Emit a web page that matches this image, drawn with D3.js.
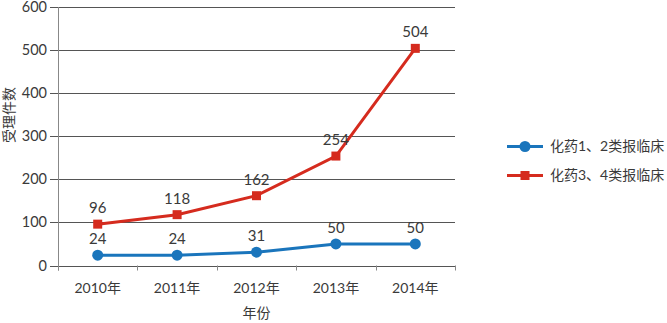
<!DOCTYPE html>
<html>
<head>
<meta charset="utf-8">
<script src="https://cdn.jsdelivr.net/npm/d3@7"></script>
<style>
  body { margin: 0; background: #fff; }
  text { font-family: "Lato", "Noto Sans CJK SC", sans-serif; fill: #3a3a3a; }
</style>
</head>
<body>
<svg id="chart" width="667" height="323"></svg>
<script>
// data
const years = ["2010年", "2011年", "2012年", "2013年", "2014年"]
const seriesNames = ["化药1、2类报临床", "化药3、4类报临床"]
const blueVals = [24, 24, 31, 50, 50]
const redVals = [96, 118, 162, 254, 504]
const yTicks = [0, 100, 200, 300, 400, 500, 600]

const colors = ["#1a75bc", "#d52b1e"]

const svg = d3.select('#chart')
const plotL = 58, plotR = 455, plotT = 7, plotB = 265.5

const x = d3.scaleBand().domain(years).range([plotL, plotR])
const y = d3.scaleLinear().domain([0, 600]).range([plotB, plotT])

// grid lines
svg.append("g")
  .selectAll("line")
  .data(yTicks)
  .join("line")
  .attr("x1", plotL - 8)
  .attr("x2", plotR)
  .attr("y1", d => Math.round(y(d)) + 0.5)
  .attr("y2", d => Math.round(y(d)) + 0.5)
  .attr("stroke", "#555")
  .attr("stroke-width", 1)

// y tick labels
svg.append("g")
  .selectAll("text")
  .data(yTicks)
  .join("text")
  .attr("x", plotL - 11)
  .attr("y", d => y(d))
  .attr("dy", "0.35em")
  .attr("text-anchor", "end")
  .style("font-size", "14.5px")
  .text(d => d)

// y axis line
svg.append("line")
  .attr("x1", plotL + 0.5).attr("x2", plotL + 0.5)
  .attr("y1", plotT).attr("y2", plotB + 5)
  .attr("stroke", "#888")

// x ticks (band edges)
const edges = years.map(d => x(d)).concat([plotR])
svg.append("g")
  .selectAll("line")
  .data(edges)
  .join("line")
  .attr("x1", d => Math.round(d) + 0.5)
  .attr("x2", d => Math.round(d) + 0.5)
  .attr("y1", plotB)
  .attr("y2", plotB + 5)
  .attr("stroke", "#888")

// x labels
svg.append("g")
  .selectAll("text")
  .data(years)
  .join("text")
  .attr("x", d => x(d) + x.bandwidth() / 2)
  .attr("y", 293)
  .attr("text-anchor", "middle")
  .style("font-size", "14px")
  .text(d => d)

// axis titles
svg.append("text")
  .attr("x", (plotL + plotR) / 2)
  .attr("y", 318)
  .attr("text-anchor", "middle")
  .style("font-size", "14px")
  .text("年份")

svg.append("text")
  .attr("transform", "translate(14,115) rotate(-90)")
  .attr("text-anchor", "middle")
  .style("font-size", "14px")
  .text("受理件数")

const cx = d => x(d) + x.bandwidth() / 2
const line = d3.line()
  .x((d, i) => cx(years[i]))
  .y(d => y(d))

const allSeries = [blueVals, redVals]

allSeries.forEach((vals, s) => {
  svg.append("path")
    .datum(vals)
    .attr("d", line)
    .attr("fill", "none")
    .attr("stroke", colors[s])
    .attr("stroke-width", 3)

  const g = svg.append("g")
  if (s === 0) {
    g.selectAll("circle")
      .data(vals)
      .join("circle")
      .attr("cx", (d, i) => cx(years[i]))
      .attr("cy", d => y(d))
      .attr("r", 5.5)
      .attr("fill", colors[s])
  } else {
    g.selectAll("rect")
      .data(vals)
      .join("rect")
      .attr("x", (d, i) => cx(years[i]) - 4.5)
      .attr("y", d => y(d) - 4.5)
      .attr("width", 9)
      .attr("height", 9)
      .attr("fill", colors[s])
  }

  // value labels
  svg.append("g")
    .selectAll("text")
    .data(vals)
    .join("text")
    .attr("x", (d, i) => cx(years[i]))
    .attr("y", d => y(d) - 11)
    .attr("text-anchor", "middle")
    .style("font-size", "15px")
    .text(d => d)
})

// legend
const legend = svg.append("g")
seriesNames.forEach((name, s) => {
  const ly = 146.5 + s * 29
  legend.append("line")
    .attr("x1", 507).attr("x2", 543)
    .attr("y1", ly).attr("y2", ly)
    .attr("stroke", colors[s])
    .attr("stroke-width", 3)
  if (s === 0) {
    legend.append("circle").attr("cx", 525).attr("cy", ly).attr("r", 5.5).attr("fill", colors[s])
  } else {
    legend.append("rect").attr("x", 520.5).attr("y", ly - 4.5).attr("width", 9).attr("height", 9).attr("fill", colors[s])
  }
  legend.append("text")
    .attr("x", 550)
    .attr("y", ly)
    .attr("dy", "0.35em")
    .style("font-size", "14px")
    .text(name)
})
</script>
</body>
</html>
